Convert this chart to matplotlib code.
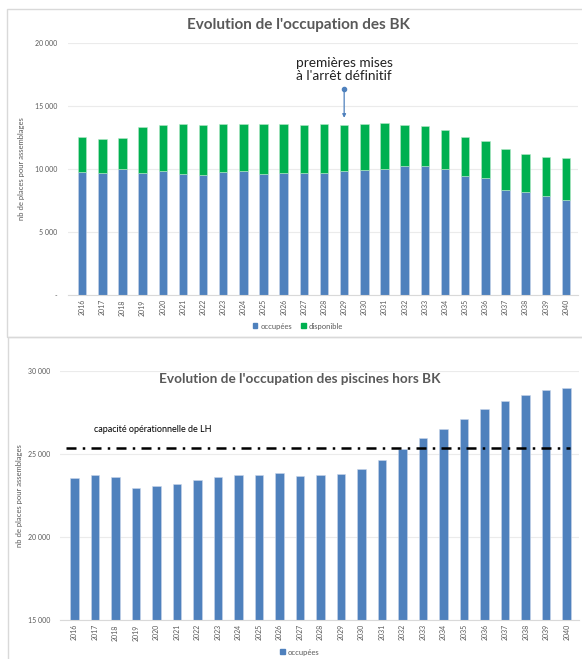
import numpy as np
import matplotlib
matplotlib.use("Agg")
import matplotlib.pyplot as plt
from matplotlib.patches import Patch, Rectangle
from matplotlib.ticker import FuncFormatter

plt.rcParams['font.family'] = ['Lato', 'DejaVu Sans']

# data
years = [str(y) for y in range(2016, 2041)]

# BK: occupied + available places
bk_occupees = [9760, 9660, 9970, 9660, 9810, 9600, 9550, 9740, 9840, 9630,
               9710, 9660, 9660, 9810, 9920, 9970, 10260, 10240, 10000, 9440,
               9310, 8360, 8150, 7860, 7570]
bk_total = [12510, 12350, 12430, 13310, 13490, 13570, 13470, 13540, 13540, 13540,
            13540, 13520, 13600, 13490, 13600, 13650, 13490, 13440, 13120, 12510,
            12220, 11610, 11220, 10930, 10850]
bk_disponible = [t - o for t, o in zip(bk_total, bk_occupees)]

# pools outside BK
piscines_occupees = [23560, 23740, 23640, 22980, 23080, 23220, 23440, 23600, 23760, 23740,
                     23880, 23660, 23720, 23780, 24070, 24630, 25310, 25950, 26510, 27130,
                     27740, 28180, 28560, 28880, 29000]
capacite_lh = 25350

annot_year = '2029'

BLUE = '#4F81BD'
GREEN = '#00B050'
GREY_TXT = '#595959'
GRID = '#EBEBEB'

W, H = 582, 659
fig = plt.figure(figsize=(W / 100, H / 100), dpi=100)


def px_axes(x0, y0, x1, y1):
    # pixel box (top-left origin) -> figure axes
    return fig.add_axes([x0 / W, 1 - y1 / H, (x1 - x0) / W, (y1 - y0) / H])


def fmt_thousands(v, pos):
    if v == 0:
        return '-'
    return f'{int(v):,}'.replace(',', ' ')


def style_axes(ax, pad):
    for s in ['top', 'right', 'left']:
        ax.spines[s].set_visible(False)
    ax.spines['bottom'].set_color('#D9D9D9')
    ax.spines['bottom'].set_linewidth(0.8)
    ax.grid(axis='y', color=GRID, linewidth=0.8)
    ax.set_axisbelow(True)
    ax.tick_params(axis='both', length=0, labelsize=5, labelcolor=GREY_TXT)
    ax.tick_params(axis='x', rotation=90, pad=3)
    ax.tick_params(axis='y', pad=pad)
    ax.yaxis.set_major_formatter(FuncFormatter(fmt_thousands))


# panel frames
fig.patches.append(Rectangle((7 / W, 1 - 337 / H), 600 / W, 328 / H, transform=fig.transFigure,
                             fill=False, edgecolor='#D9D9D9', linewidth=1))
fig.patches.append(Rectangle((8 / W, -0.01), 600 / W, (H - 337) / H + 0.01, transform=fig.transFigure,
                             fill=False, edgecolor='#D9D9D9', linewidth=1))

# ---- top chart: BK
ax1 = px_axes(68, 43, 578, 295)
x = np.arange(len(years))
ax1.bar(x, bk_occupees, width=0.42, color=BLUE, edgecolor='#C9D6EA', linewidth=0.4)
ax1.bar(x, bk_disponible, bottom=bk_occupees, width=0.42, color=GREEN, edgecolor='#B5E8C8', linewidth=0.4)
ax1.set_xlim(-0.7, len(years) - 0.4)
ax1.set_ylim(0, 20000)
ax1.set_yticks([0, 5000, 10000, 15000, 20000])
ax1.set_xticks(x)
ax1.set_xticklabels(years)
style_axes(ax1, 8)
ax1.set_ylabel('nb de places pour assemblages', fontsize=5.5, color=GREY_TXT)
ax1.yaxis.set_label_coords(-0.084, 0.5)

i = years.index(annot_year)
ax1.annotate('', xy=(i, bk_total[i] + 350), xytext=(i, 16350),
             arrowprops=dict(arrowstyle='-|>', color=BLUE, lw=0.9, mutation_scale=5))
ax1.plot([i], [16350], 'o', color=BLUE, markersize=3)
ax1.text(i, 17900, 'premières mises\nà l\'arrêt définitif', ha='center', va='center',
         fontsize=9.8, color='#222222', linespacing=1.1)

fig.text(298 / W, 1 - 25 / H, "Evolution de l'occupation des BK", ha='center', va='center',
         fontsize=11, fontweight='bold', color=GREY_TXT)
fig.legend(handles=[Patch(color=BLUE, label='occupées'), Patch(color=GREEN, label='disponible')],
           loc='center', bbox_to_anchor=(298 / W, 1 - 326 / H), ncol=2, frameon=False,
           fontsize=5.5, labelcolor=GREY_TXT, handlelength=0.6, handleheight=0.6,
           handletextpad=0.4, columnspacing=1.2)

# ---- bottom chart: piscines hors BK
ax2 = px_axes(60, 371, 579, 620)
ax2.bar(x, piscines_occupees, width=0.42, color=BLUE, edgecolor='#C9D6EA', linewidth=0.4)
ax2.set_xlim(-0.7, len(years) - 0.4)
ax2.set_ylim(15000, 30000)
ax2.set_yticks([15000, 20000, 25000, 30000])
ax2.set_xticks(x)
ax2.set_xticklabels(years)
style_axes(ax2, 7)
ax2.set_ylabel('nb de places pour assemblages', fontsize=5.5, color=GREY_TXT)
ax2.yaxis.set_label_coords(-0.072, 0.5)

ax2.axhline(capacite_lh, xmin=0.012, xmax=0.983, color='black', linewidth=1.8,
            dashes=(4, 2.5, 1, 2.5))
ax2.text(0.065, capacite_lh + 1100, 'capacité opérationnelle de LH', transform=ax2.get_yaxis_transform(),
         fontsize=6.5, color='black', va='center', ha='left')

fig.text(300 / W, 1 - 379 / H, "Evolution de l'occupation des piscines hors BK", ha='center', va='center',
         fontsize=9.8, fontweight='bold', color=GREY_TXT)
fig.legend(handles=[Patch(color=BLUE, label='occupées')],
           loc='center', bbox_to_anchor=(300 / W, 1 - 652 / H), frameon=False,
           fontsize=5.5, labelcolor=GREY_TXT, handlelength=0.6, handleheight=0.6,
           handletextpad=0.4)

fig.savefig('out.png', dpi=100)
